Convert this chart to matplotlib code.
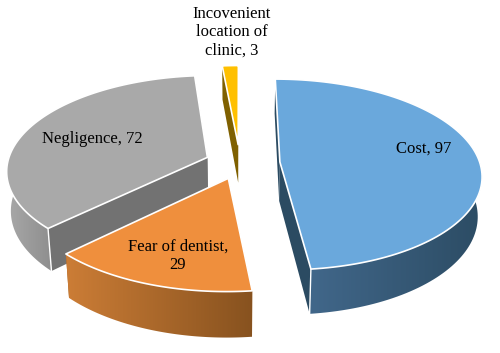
import numpy as np
import matplotlib
matplotlib.use('Agg')
import matplotlib.pyplot as plt
from matplotlib.colors import LinearSegmentedColormap
from matplotlib.patches import Polygon

plt.rcParams['font.family'] = ['Liberation Serif', 'DejaVu Serif']

# data
labels = ['Cost, 97', 'Fear of dentist,\n29', 'Negligence, 72', 'Incovenient\nlocation of\nclinic, 3']
values = [97, 29, 72, 3]

# styling for each slice, same order as values
explode = [0.20, 0.17, 0.175, 0.20]
top_colors = ['#6aa8dc', '#ef8f3d', '#a9a9a9', '#ffc000']
wall_left = ['#41678a', '#cc7d36', '#a8a8a8', '#7f6000']
wall_right = ['#2c4c64', '#87521f', '#8e8e8e', '#7f6000']
side_colors = ['#2b4b62', '#a0601f', '#727272', '#7f6000']
label_pos = [(424, 149), (178, 256), (92, 139), (232, 32)]

# pie geometry (pixels)
cx, cy = 240, 163
rx, ry = 200, 94
persp = 0.131
depth = 39
start_angle = 0


def project(u, v, lower=False):
    s = 1 / (1 + persp * v)
    x = cx + rx * u * s
    y = cy - ry * v * s
    if lower:
        x = cx + (x - cx) * 0.982
        y = y + depth * s
    return x, y


fig = plt.figure(figsize=(5, 3.53), dpi=100)
ax = fig.add_axes([0, 0, 1, 1])
ax.axis('off')

angles = start_angle + np.concatenate([[0], np.cumsum(values)]) * 360 / sum(values)

# back to front
for n, i in enumerate([3, 2, 0, 1]):
    z = 10 * (n + 1)
    a0, a1 = np.radians(angles[i]), np.radians(angles[i + 1])
    mid = (a0 + a1) / 2
    ou, ov = explode[i] * np.sin(mid), explode[i] * np.cos(mid)
    th = np.linspace(a0, a1, 121)
    u = ou + np.sin(th)
    v = ov + np.cos(th)
    xt, yt = project(u, v)
    xb, yb = project(u, v, lower=True)
    xa, ya = project(ou, ov)
    xab, yab = project(ou, ov, lower=True)

    # radial walls
    ax.fill([xa, xt[0], xb[0], xab], [ya, yt[0], yb[0], yab], color=side_colors[i], lw=0, zorder=z)
    ax.fill([xa, xt[-1], xb[-1], xab], [ya, yt[-1], yb[-1], yab], color=side_colors[i], lw=0, zorder=z)

    # outer wall, gradient along x
    keep = np.cos(th) < 0.25
    if keep.sum() > 1:
        wall = Polygon(np.c_[np.r_[xt[keep], xb[keep][::-1]], np.r_[yt[keep], yb[keep][::-1]]],
                       closed=True, transform=ax.transData, facecolor='none', lw=0)
        ax.add_patch(wall)
        cmap = LinearSegmentedColormap.from_list('wall', [wall_left[i], wall_right[i]])
        xmin, xmax = min(xt[keep].min(), xb[keep].min()), max(xt[keep].max(), xb[keep].max())
        ymin, ymax = min(yt[keep].min(), yb[keep].min()), max(yt[keep].max(), yb[keep].max())
        im = ax.imshow(np.linspace(0, 1, 256)[None, :], cmap=cmap, aspect='auto',
                       extent=(xmin, xmax, ymax, ymin), interpolation='bilinear', zorder=z + 1)
        im.set_clip_path(wall)

    # top face
    ax.fill(np.r_[xa, xt], np.r_[ya, yt], facecolor=top_colors[i], edgecolor='white', lw=1.2,
            joinstyle='round', zorder=z + 2)

    # white corner of the walls
    if i == 0:
        ax.plot([xt[-1], xb[-1]], [yt[-1], yb[-1]], color='white', lw=1.0, zorder=z + 1.5)
    if i == 2:
        ax.plot([xt[0], xb[0]], [yt[0], yb[0]], color='white', lw=1.0, zorder=z + 1.5)

for lab, (lx, ly) in zip(labels, label_pos):
    ax.text(lx, ly, lab, ha='center', va='center', fontsize=12, color='black', linespacing=1.2, zorder=100)

ax.set_xlim(0, 500)
ax.set_ylim(353, 0)

fig.savefig('out.png', dpi=100)
